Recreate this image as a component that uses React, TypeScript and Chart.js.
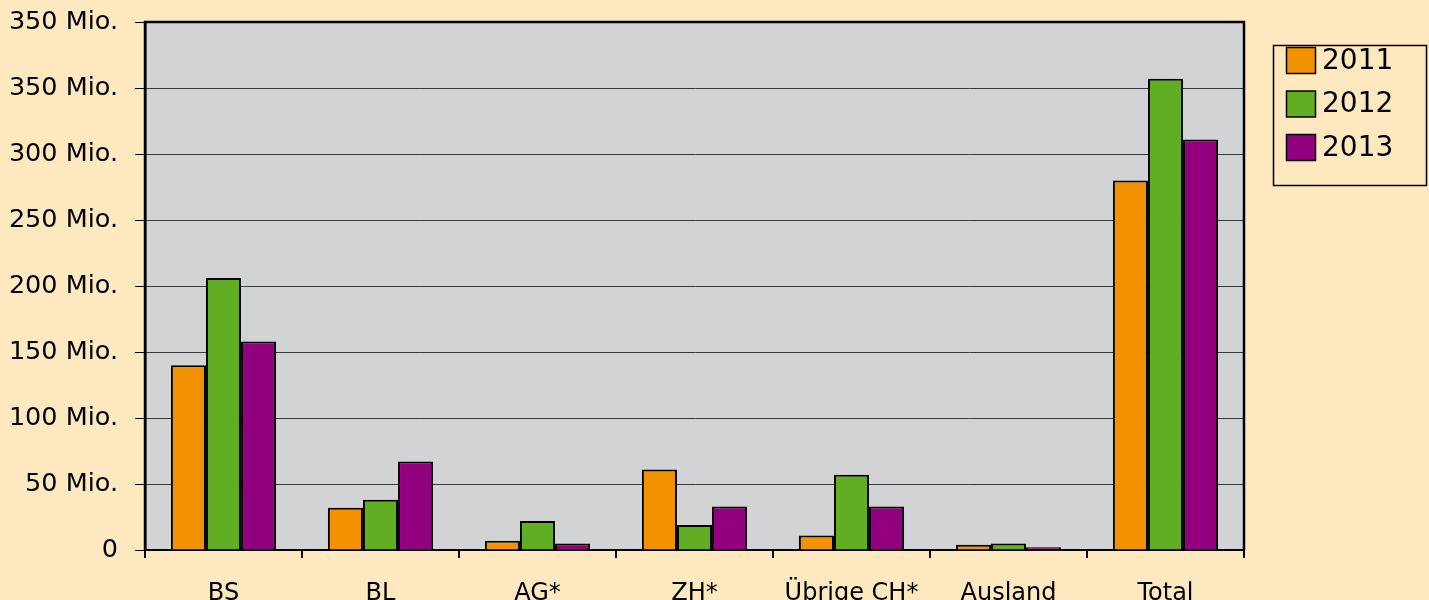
import React, { useEffect, useRef } from "react";
import { Chart, registerables } from "chart.js";

Chart.register(...registerables);

const categories = ["BS", "BL", "AG*", "ZH*", "Übrige CH*", "Ausland", "Total"];
const series2011 = [140, 32, 7, 61, 11, 4, 280];
const series2012 = [206, 38, 22, 19, 57, 5, 357];
const series2013 = [158, 67, 5, 33, 33, 2, 311];
const seriesNames = ["2011", "2012", "2013"];
const seriesColors = ["#F39200", "#62AE23", "#920080"];
const yTickLabels = ["0", "50 Mio.", "100 Mio.", "150 Mio.", "200 Mio.", "250 Mio.", "300 Mio.", "350 Mio.", "350 Mio."];

const FONT = "'DejaVu Sans', sans-serif";

const plotBg = {
  id: "plotBg",
  beforeDraw(chart: any) {
    const { ctx, chartArea } = chart;
    ctx.save();
    ctx.fillStyle = "#D2D3D5";
    ctx.fillRect(chartArea.left, chartArea.top, chartArea.right - chartArea.left, chartArea.bottom - chartArea.top);
    ctx.restore();
  },
  afterDraw(chart: any) {
    const { ctx, chartArea } = chart;
    ctx.save();
    ctx.strokeStyle = "#000";
    ctx.lineWidth = 2.5;
    ctx.beginPath();
    ctx.moveTo(chartArea.left, chartArea.bottom);
    ctx.lineTo(chartArea.left, chartArea.top);
    ctx.lineTo(chartArea.right, chartArea.top);
    ctx.lineTo(chartArea.right, chartArea.bottom);
    ctx.stroke();
    // legend box
    const bx = 1273.5, by = 45.5, bw = 153, bh = 140;
    ctx.lineWidth = 1.5;
    ctx.strokeRect(bx, by, bw, bh);
    chart.data.datasets.forEach((ds: any, i: number) => {
      const sy = 47.5 + i * 43.5;
      ctx.fillStyle = ds.backgroundColor;
      ctx.fillRect(1286.5, sy, 29, 26);
      ctx.lineWidth = 1.5;
      ctx.strokeStyle = "#000";
      ctx.strokeRect(1286.5, sy, 29, 26);
      ctx.fillStyle = "#000";
      ctx.font = `28px ${FONT}`;
      ctx.textBaseline = "middle";
      ctx.textAlign = "left";
      ctx.fillText(ds.label, 1322, sy + 14);
    });
    ctx.restore();
  },
};

export default function App() {
  const ref = useRef<HTMLCanvasElement>(null);
  useEffect(() => {
    if (!ref.current) return;
    const data = [series2011, series2012, series2013];
    const chart = new Chart(ref.current, {
      type: "bar",
      data: {
        labels: categories,
        datasets: data.map((d, i) => ({
          label: seriesNames[i],
          data: d,
          backgroundColor: seriesColors[i],
          borderColor: "#000",
          borderWidth: 2,
          categoryPercentage: 0.67,
          barPercentage: 1.0,
        })),
      },
      options: {
        animation: false,
        responsive: false,
        maintainAspectRatio: false,
        layout: { padding: { left: 0, right: 185, top: 22, bottom: 0 } },
        plugins: { legend: { display: false }, tooltip: { enabled: false } },
        scales: {
          x: {
            afterFit: (s: any) => { s.height = 50; s.paddingLeft = 0; s.paddingRight = 0; },
            grid: { display: true, offset: true, drawOnChartArea: false, drawTicks: true, tickLength: 8, color: "#000", lineWidth: 2 },
            border: { display: true, color: "#000", width: 2 },
            ticks: { color: "#000", font: { family: FONT, size: 24 }, padding: 21, maxRotation: 0, autoSkip: false },
          },
          y: {
            min: 0,
            max: 400,
            afterFit: (s: any) => { s.width = 145; s.paddingTop = 0; s.paddingBottom = 0; },
            grid: { display: true, color: "#3a3a3a", lineWidth: 1, drawTicks: true, tickLength: 10, tickColor: "#000" },
            border: { display: true, color: "#000", width: 2.5 },
            ticks: {
              stepSize: 50,
              color: "#000",
              padding: 17,
              font: { family: FONT, size: 25.5 },
              callback: (_v: any, i: number) => yTickLabels[i],
            },
          },
        },
      },
      plugins: [plotBg],
    });
    return () => chart.destroy();
  }, []);
  return (
    <div style={{ position: "fixed", left: 0, top: 0, width: 1429, height: 600, background: "#FEE8C0" }}>
      <canvas ref={ref} width={1429} height={600} style={{ display: "block" }} />
    </div>
  );
}
